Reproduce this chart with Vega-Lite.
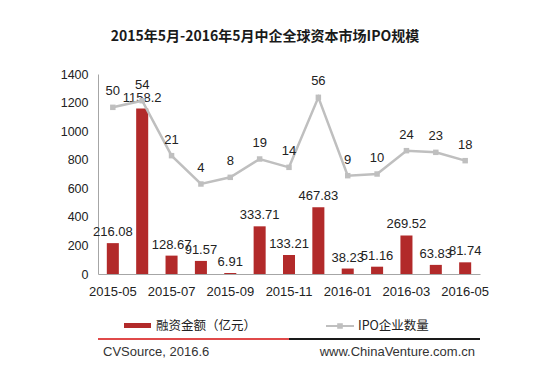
{
  "$schema": "https://vega.github.io/schema/vega-lite/v6.json",
  "background": "white",
  "padding": {"left": 60, "top": 30, "right": 5, "bottom": 5},
  "spacing": 40,
  "config": {"font": "Liberation Sans", "view": {"stroke": null}},
  "datasets": {
    "ipo": [
      {"month": "2015-05", "amount": 216.08, "count": 50},
      {"month": "2015-06", "amount": 1158.2, "count": 54},
      {"month": "2015-07", "amount": 128.67, "count": 21},
      {"month": "2015-08", "amount": 91.57, "count": 4},
      {"month": "2015-09", "amount": 6.91, "count": 8},
      {"month": "2015-10", "amount": 333.71, "count": 19},
      {"month": "2015-11", "amount": 133.21, "count": 14},
      {"month": "2015-12", "amount": 467.83, "count": 56},
      {"month": "2016-01", "amount": 38.23, "count": 9},
      {"month": "2016-02", "amount": 51.16, "count": 10},
      {"month": "2016-03", "amount": 269.52, "count": 24},
      {"month": "2016-04", "amount": 63.83, "count": 23},
      {"month": "2016-05", "amount": 81.74, "count": 18}
    ],
    "credits": [
      {"source": "CVSource, 2016.6", "site": "www.ChinaVenture.com.cn"}
    ]
  },
  "vconcat": [
    {
      "data": {"name": "ipo"},
      "width": 382,
      "height": 200,
      "title": {
        "text": "2015年5月-2016年5月中企全球资本市场IPO规模",
        "font": "Noto Sans CJK SC",
        "fontSize": 14,
        "fontWeight": "bold",
        "color": "#1a1a1a",
        "anchor": "middle",
        "frame": "group",
        "dx": -24,
        "offset": 24
      },
      "encoding": {
        "x": {
          "field": "month",
          "type": "ordinal",
          "title": null,
          "scale": {"paddingInner": 0.59, "paddingOuter": 0.3},
          "axis": {
            "values": ["2015-05", "2015-07", "2015-09", "2015-11", "2016-01", "2016-03", "2016-05"],
            "labelAngle": 0,
            "ticks": false,
            "domainColor": "#A6A6A6",
            "labelFont": "Liberation Sans",
            "labelFontSize": 13,
            "labelColor": "#222222",
            "labelPadding": 11
          }
        }
      },
      "layer": [
        {
          "encoding": {
            "y": {
              "field": "amount",
              "type": "quantitative",
              "scale": {"domain": [0, 1400], "nice": false},
              "axis": {
                "values": [0, 200, 400, 600, 800, 1000, 1200, 1400],
                "tickCount": 8,
                "format": "d",
                "labelOverlap": false,
                "labelFlush": false,
                "labelBound": false,
                "title": null,
                "grid": false,
                "ticks": false,
                "domainColor": "#A6A6A6",
                "labelFont": "Liberation Sans",
                "labelFontSize": 12.5,
                "labelColor": "#222222",
                "labelPadding": 10,
                "minExtent": 38
              }
            }
          },
          "layer": [
            {
              "mark": {"type": "bar"},
              "encoding": {
                "fill": {
                  "datum": "融资金额（亿元）",
                  "type": "nominal",
                  "scale": {"range": ["#B22A2A"]},
                  "legend": {
                    "orient": "none",
                    "legendX": 26,
                    "legendY": 238,
                    "title": null,
                    "symbolType": "M-1,-0.185H1V0.185H-1Z",
                    "symbolSize": 729,
                    "symbolStrokeWidth": 0,
                    "labelFont": "Noto Sans CJK SC",
                    "labelFontSize": 12.5,
                    "labelColor": "#222222",
                    "labelOffset": 5
                  }
                }
              }
            },
            {
              "mark": {"type": "text", "baseline": "alphabetic", "dy": -7, "fontSize": 13, "color": "#222222"},
              "encoding": {
                "text": {"field": "amount", "type": "nominal"}
              }
            }
          ]
        },
        {
          "encoding": {
            "y": {"field": "count", "type": "quantitative", "scale": {"domain": [-50, 70], "nice": false}, "axis": null}
          },
          "layer": [
            {
              "mark": {"type": "line", "strokeWidth": 2.5},
              "encoding": {
                "stroke": {
                  "datum": "IPO企业数量",
                  "type": "nominal",
                  "scale": {"range": ["#BFBFBF"]},
                  "legend": {
                    "orient": "none",
                    "legendX": 228,
                    "legendY": 238,
                    "title": null,
                    "symbolType": "M-1,-0.07H1V0.07H-1Z M-0.2,-0.2H0.2V0.2H-0.2Z",
                    "symbolSize": 784,
                    "labelFont": "Noto Sans CJK SC",
                    "labelFontSize": 12.5,
                    "labelColor": "#222222",
                    "labelOffset": 4,
                    "encode": {"symbols": {"update": {"fill": {"value": "#BFBFBF"}, "strokeWidth": {"value": 0}}}}
                  }
                }
              }
            },
            {
              "mark": {"type": "point", "shape": "square", "filled": true, "size": 30, "color": "#BFBFBF", "opacity": 1}
            },
            {
              "mark": {"type": "text", "baseline": "alphabetic", "dy": -12, "fontSize": 13, "color": "#222222"},
              "encoding": {
                "text": {"field": "count", "type": "nominal"}
              }
            }
          ]
        }
      ],
      "resolve": {"scale": {"y": "independent"}}
    },
    {
      "data": {"name": "credits"},
      "width": 382,
      "height": 13,
      "layer": [
        {
          "mark": {"type": "rule", "color": "#E04A4A", "strokeWidth": 2},
          "encoding": {
            "x": {"datum": 0, "type": "quantitative", "scale": {"domain": [0.089, 0.9836]}, "axis": null},
            "x2": {"datum": 0.5},
            "y": {"datum": 1, "type": "quantitative", "scale": {"domain": [0, 1]}, "axis": null}
          }
        },
        {
          "mark": {"type": "rule", "color": "#1A1A1A", "strokeWidth": 2},
          "encoding": {
            "x": {"datum": 0.5, "type": "quantitative"},
            "x2": {"datum": 1},
            "y": {"datum": 1, "type": "quantitative"}
          }
        },
        {
          "mark": {"type": "text", "align": "left", "baseline": "middle", "dx": 5, "fontSize": 13, "color": "#333333"},
          "encoding": {
            "x": {"datum": 0, "type": "quantitative"},
            "y": {"datum": 0, "type": "quantitative"},
            "text": {"field": "source"}
          }
        },
        {
          "mark": {"type": "text", "align": "right", "baseline": "middle", "dx": -5, "fontSize": 13, "color": "#333333"},
          "encoding": {
            "x": {"datum": 1, "type": "quantitative"},
            "y": {"datum": 0, "type": "quantitative"},
            "text": {"field": "site"}
          }
        }
      ]
    }
  ]
}
